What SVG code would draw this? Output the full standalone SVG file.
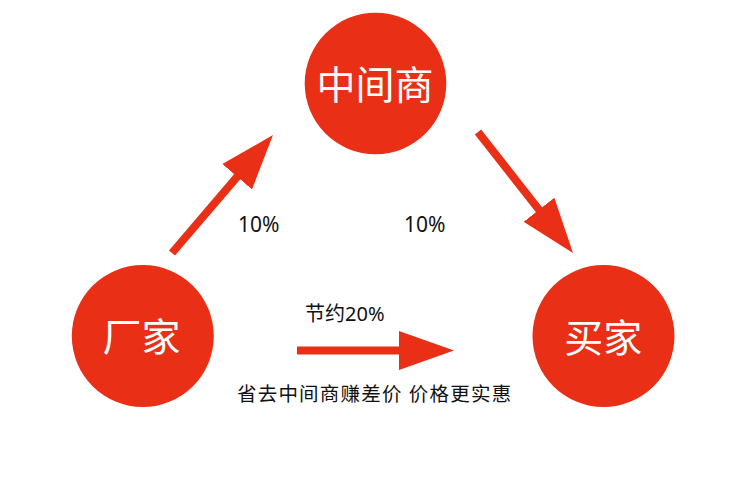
<svg xmlns="http://www.w3.org/2000/svg" width="750" height="490" viewBox="0 0 750 490">
<style>
.node{fill:#E92F16}
.nlabel{fill:#fff;font-family:"Noto Sans CJK SC","Noto Sans",sans-serif;font-size:39px;text-anchor:middle}
.lbl{fill:#111;font-family:"Noto Sans","Noto Sans CJK SC",sans-serif;font-size:20px}
.conn{stroke:#E92F16;stroke-width:8;fill:none}
</style>
<defs>
<marker id="head" markerUnits="userSpaceOnUse" viewBox="0 -20 56 40" refX="10" refY="0" markerWidth="56" markerHeight="40" orient="auto">
<path d="M0,-19.5 L55,0 L0,19.5 Z" fill="#E92F16"/>
</marker>
</defs>
<rect width="750" height="490" fill="#fff"/>
<g id="middleman">
<circle class="node" cx="375.5" cy="83.5" r="70.8"/>
<text class="nlabel" x="375" y="99">中间商</text>
</g>
<g id="factory">
<circle class="node" cx="142.8" cy="336" r="71"/>
<text class="nlabel" x="141.5" y="351">厂家</text>
</g>
<g id="buyer">
<circle class="node" cx="603.5" cy="336" r="71"/>
<text class="nlabel" x="603.3" y="352">买家</text>
</g>
<g id="connectors">
<line class="conn" x1="172" y1="253" x2="243.7" y2="169.2" marker-end="url(#head)"/>
<line class="conn" x1="478" y1="132" x2="545.2" y2="217.6" marker-end="url(#head)"/>
<line class="conn" x1="297" y1="350.5" x2="409" y2="350.5" marker-end="url(#head)"/>
</g>
<g id="labels">
<text class="lbl" x="238" y="232" style="font-size:21px">10%</text>
<text class="lbl" x="404" y="232" style="font-size:21px">10%</text>
<text class="lbl" x="305" y="321">节约20%</text>
<text class="lbl" x="237" y="401" style="font-size:19.5px;letter-spacing:1.2px">省去中间商赚差价 价格更实惠</text>
</g>
</svg>
